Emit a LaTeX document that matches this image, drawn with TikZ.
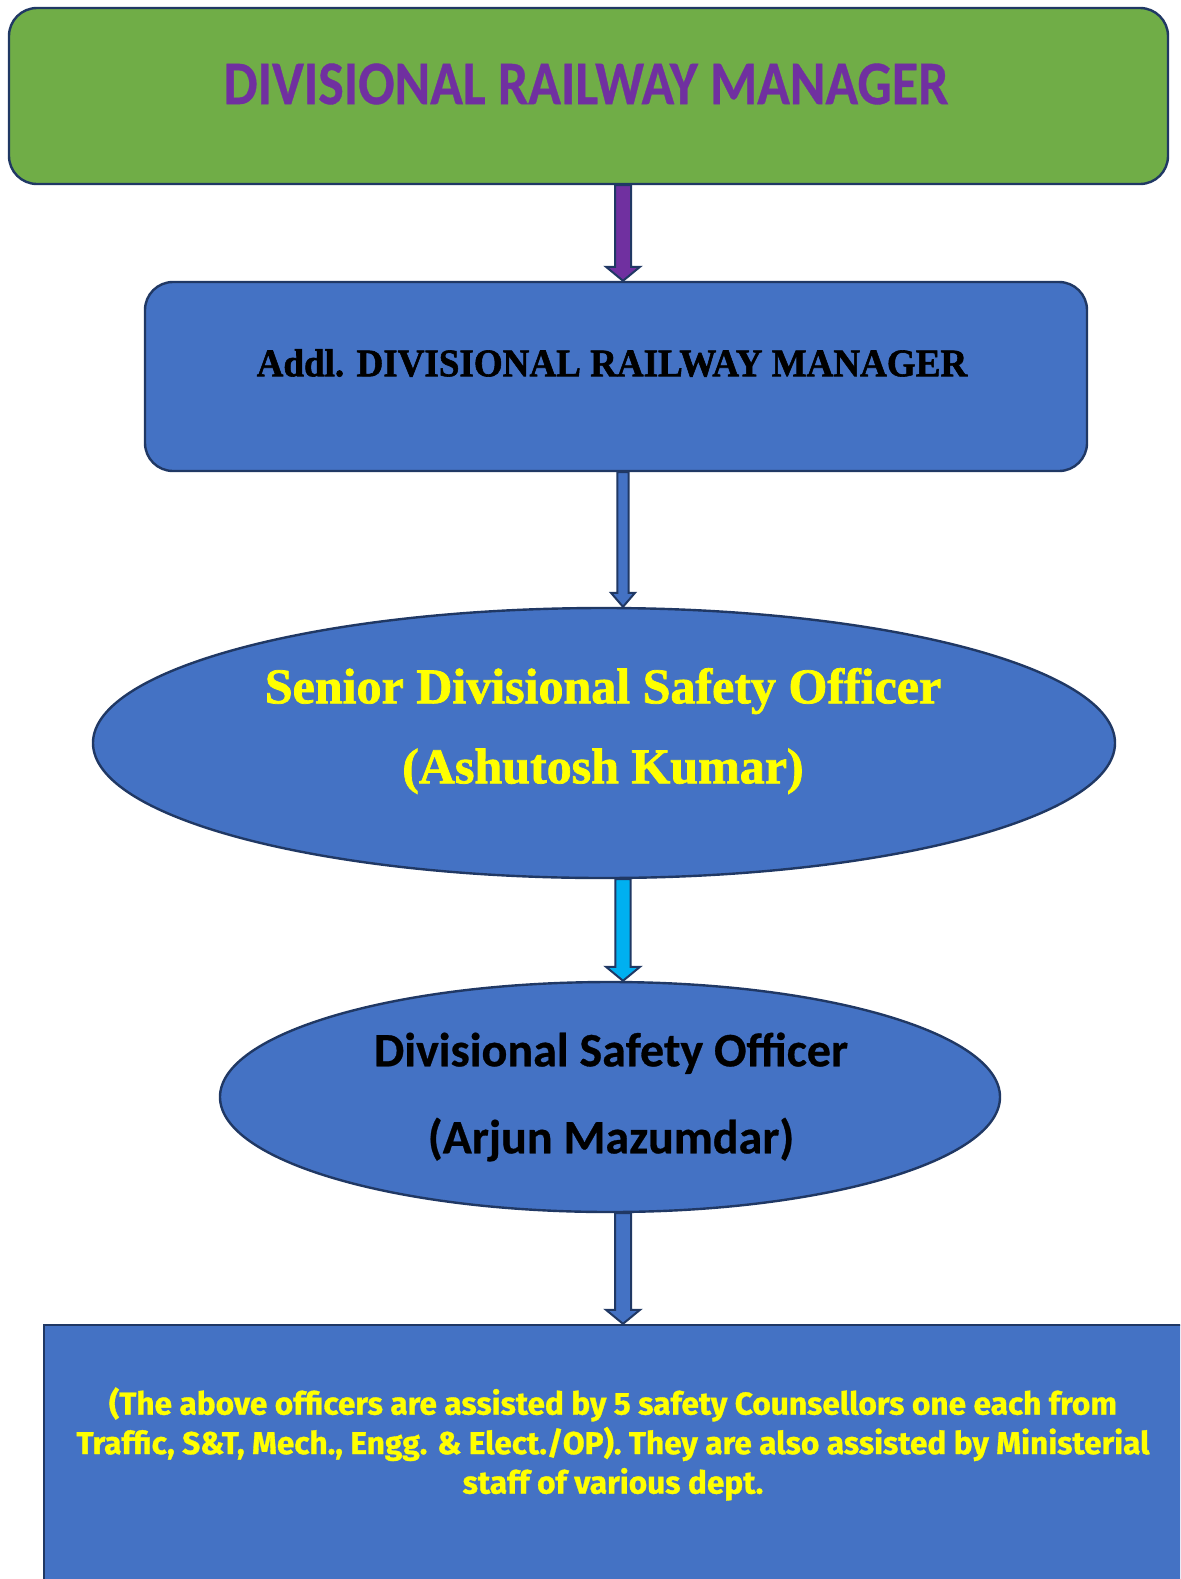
\documentclass[tikz,border=0pt]{standalone}
\usepackage{fontspec}
\usepackage{graphicx}
\usetikzlibrary{calc,shapes.geometric}

\newfontfamily\calibri{Carlito}[BoldFeatures={FakeBold=0.6}]
\newfontfamily\heavyserif{Liberation Serif}[BoldFeatures={FakeBold=1.5}]
\newfontfamily\notefont{Fira Sans}[BoldFeatures={FakeBold=1}]

\definecolor{drmgreen}{HTML}{70AD47}
\definecolor{drmpurple}{HTML}{7030A0}
\definecolor{officeblue}{HTML}{4472C4}
\definecolor{boxline}{HTML}{203864}
\definecolor{skyblue}{HTML}{00B0F0}
\definecolor{notice}{HTML}{FFFF00}

% block arrow from #1 down to #2, fill #3, shaft half width #4, head half width #5
\newcommand{\blockarrow}[5]{%
  \path let \p1=(#1), \p2=(#2) in
    [draw=boxline, line width=1pt, fill=#3]
    (\x1-#4,\y1) -- (\x1-#4,\y2+7pt) -- (\x1-#5,\y2+7pt) -- (\x1,\y2)
    -- (\x1+#5,\y2+7pt) -- (\x1+#4,\y2+7pt) -- (\x1+#4,\y1) -- cycle;}

\tikzset{
  officebox/.style={draw=boxline, line width=1.2pt, fill=officeblue, inner sep=0pt},
  roundbox/.style={officebox, rectangle, rounded corners=14pt},
  oval/.style={officebox, ellipse},
}

\begin{document}
\begin{tikzpicture}[x=0.5pt, y=-0.5pt]

\clip (0,0) rectangle (1180,1579);
\fill [white] (0,0) rectangle (1180,1579);

% boxes
\node [roundbox, fill=drmgreen, minimum width=579.5pt, minimum height=88pt] (drm) at (588.5,96) {};
\node [roundbox, minimum width=471pt, minimum height=94.5pt] (adrm) at (616,376.5) {};
\node [oval, minimum width=511pt, minimum height=135pt] (sdso) at (604,743) {};
\node [oval, minimum width=390pt, minimum height=115pt] (dso) at (610,1097) {};
\node [officebox, rectangle, minimum width=580pt, minimum height=150pt] (staff) at (624,1475) {};

% texts
\node [text=drmpurple] (drm text) at (586,84)
  {\scalebox{0.87}[1]{\calibri\fontsize{31pt}{31pt}\selectfont\bfseries DIVISIONAL RAILWAY MANAGER}};
\node (adrm text) at (612,363)
  {\scalebox{0.95}[1]{\heavyserif\fontsize{19.5pt}{19.5pt}\selectfont\bfseries Addl. DIVISIONAL RAILWAY MANAGER}};
\node [text=notice, align=center, font=\heavyserif\fontsize{25pt}{40pt}\selectfont\bfseries] (sdso text) at (603,731)
  {Senior Divisional Safety Officer\\(Ashutosh Kumar)};
\node [align=center, font=\calibri\fontsize{24pt}{43.5pt}\selectfont\bfseries] (dso text) at (611,1097)
  {Divisional Safety Officer\\(Arjun Mazumdar)};
\node [text=notice, align=center, font=\notefont\fontsize{15.8pt}{19.75pt}\selectfont\bfseries] (staff text) at (613,1444)
  {(The above officers are assisted by 5 safety Counsellors one each from\\
   Traffic, S\&T, Mech., Engg. \& Elect./OP). They are also assisted by Ministerial\\
   staff of various dept.};

% arrows
\coordinate (spine) at (623,0);
\blockarrow{drm.south -| spine}{adrm.north -| spine}{drmpurple}{4pt}{8.5pt}
\blockarrow{adrm.south -| spine}{sdso.north -| spine}{officeblue}{2.8pt}{6pt}
\blockarrow{sdso.south -| spine}{dso.north -| spine}{skyblue}{3.8pt}{8.5pt}
\blockarrow{dso.south -| spine}{staff.north -| spine}{officeblue}{4pt}{8.5pt}

\end{tikzpicture}
\end{document}
